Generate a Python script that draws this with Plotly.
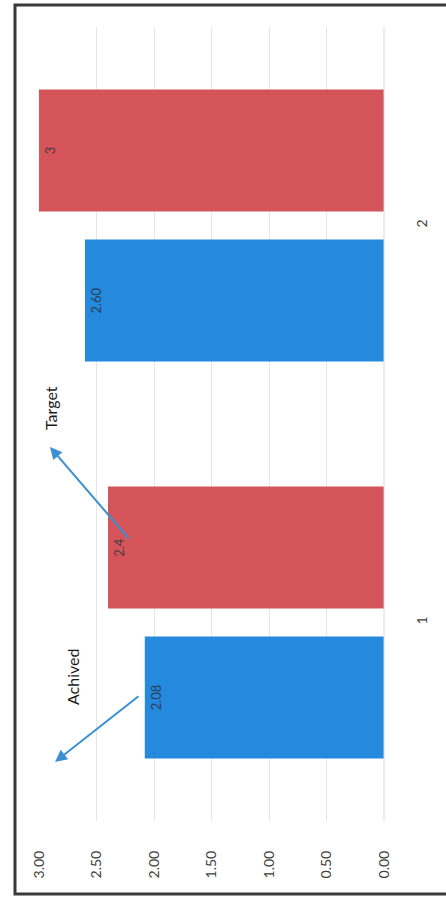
import plotly.graph_objects as go

# Chart data
categories = ["1", "2"]
achived = [2.08, 2.60]
target = [2.4, 3]
achived_labels = ["2.08", "2.60"]
target_labels = ["2.4", "3"]
value_ticks = [0, 0.5, 1.0, 1.5, 2.0, 2.5, 3.0]
value_tick_text = ["0.00", "0.50", "1.00", "1.50", "2.00", "2.50", "3.00"]

W, H = 446, 901
L, R, T, B = 39, 62, 27, 80
PW, PH = W - L - R, H - T - B


def px(x):
    return (x - L) / PW


def py(y):
    return (H - B - y) / PH


FONT = "Lato, 'Open Sans', sans-serif"

fig = go.Figure()
fig.add_trace(go.Bar(
    name="Achived", y=categories, x=achived, orientation="h",
    marker=dict(color="#2589de", line=dict(width=0)),
    text=achived_labels, textposition="inside", insidetextanchor="end",
    textangle=-90, constraintext="none",
    insidetextfont=dict(family=FONT, size=13, color="#2a3f5a"),
))
fig.add_trace(go.Bar(
    name="Target", y=categories, x=target, orientation="h",
    marker=dict(color="#d5545a", line=dict(width=0)),
    text=target_labels, textposition="inside", insidetextanchor="end",
    textangle=-90, constraintext="none",
    insidetextfont=dict(family=FONT, size=13, color="#4a3a3a"),
))

fig.update_layout(
    width=W, height=H,
    margin=dict(l=L, r=R, t=T, b=B, pad=0),
    paper_bgcolor="white", plot_bgcolor="white",
    barmode="group", bargap=0.244, bargroupgap=0.187,
    showlegend=False,
    font=dict(family=FONT, color="#404040"),
    xaxis=dict(
        range=[3, 0], tickvals=value_ticks, ticktext=value_tick_text,
        tickangle=-90, tickfont=dict(size=14, color="#404040"),
        showgrid=True, gridcolor="#e6e6e6", gridwidth=1,
        zeroline=False, showline=False, ticks="", ticklabelstandoff=26,
    ),
    yaxis=dict(
        type="category", side="right", range=[-0.5, 1.5],
        tickangle=-90, tickfont=dict(size=14, color="#404040"),
        showgrid=False, zeroline=False, showline=False, ticks="",
        ticklabelstandoff=28,
    ),
    shapes=[
        # outer frame
        dict(type="rect", xref="paper", yref="paper",
             x0=px(15), x1=px(452), y0=py(894), y1=py(5),
             line=dict(color="#3a3a3a", width=3), fillcolor="rgba(0,0,0,0)",
             layer="above"),
        # axis at zero
        dict(type="line", xref="paper", yref="paper",
             x0=px(384), x1=px(384), y0=0, y1=1,
             line=dict(color="#d8d8d8", width=1)),
    ],
    annotations=[
        dict(text="Achived", xref="paper", yref="paper", x=px(72), y=py(677),
             xanchor="center", yanchor="middle",
             showarrow=False, textangle=-90,
             font=dict(family=FONT, size=16, color="#1a1a1a")),
        dict(text="Target", xref="paper", yref="paper", x=px(50), y=py(408),
             xanchor="center", yanchor="middle",
             showarrow=False, textangle=-90,
             font=dict(family=FONT, size=16, color="#1a1a1a")),
        dict(text="", xref="paper", yref="paper", x=px(55), y=py(762),
             ax=85, ay=-67, showarrow=True, arrowhead=2, arrowsize=1.2,
             arrowwidth=2, arrowcolor="#3b8fd4"),
        dict(text="", xref="paper", yref="paper", x=px(50), y=py(447),
             ax=80, ay=93, showarrow=True, arrowhead=2, arrowsize=1.2,
             arrowwidth=2, arrowcolor="#3b8fd4"),
    ],
)

fig.write_html("out.html")
